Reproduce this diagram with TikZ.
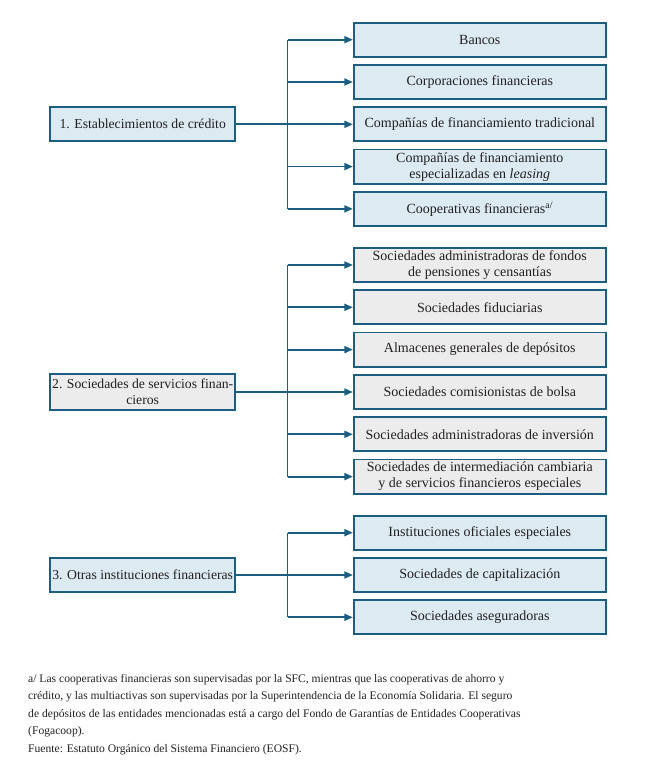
\documentclass[tikz,border=0pt]{standalone}
\usepackage{fontspec}
\setmainfont{Liberation Serif}
\usetikzlibrary{arrows.meta}
\definecolor{edgeblue}{RGB}{28,94,128}
\definecolor{paleblue}{RGB}{220,234,242}
\definecolor{palegray}{RGB}{236,236,236}
\definecolor{ink}{RGB}{35,31,32}
\tikzset{
	box/.style={draw=edgeblue, line width=1.9pt, align=center, text=ink, inner sep=1pt, font=\fontsize{14}{16}\selectfont},
	subbox/.style={box, minimum width=252pt, minimum height=34.2pt},
	headbox/.style={box, minimum width=185pt, minimum height=34.2pt, font=\fontsize{13.7}{16}\selectfont},
	link/.style={draw=edgeblue, line width=1.8pt},
	arr/.style={link, -{Triangle[length=8.5pt,width=7pt]}}
}
\begin{document}
\begin{tikzpicture}[x=1pt,y=-1pt]
		\useasboundingbox (0,0) rectangle (646,770);
		\node[headbox, fill=paleblue] (g1) at (142.7,124.3) {1. Establecimientos de crédito};
		\node[subbox, fill=paleblue] (a1) at (479.8,39.7) {Bancos};
		\node[subbox, fill=paleblue] (a2) at (479.8,82) {Corporaciones financieras};
		\node[subbox, fill=paleblue] (a3) at (479.8,124.3) {Compañías de financiamiento tradicional};
		\node[subbox, fill=paleblue] (a4) at (479.8,166.6) {Compañías de financiamiento\\especializadas en \textit{leasing}};
		\node[subbox, fill=paleblue] (a5) at (479.8,208.9) {Cooperativas financieras\textsuperscript{a/}};
		\coordinate (j1) at (287.5,124.3);
		\draw[link] (g1.east) -- (j1);
		\draw[link] (j1 |- a1.west) -- (j1 |- a5.west);
		\draw[arr] (j1 |- a1.west) -- (a1.west);
		\draw[arr] (j1 |- a2.west) -- (a2.west);
		\draw[arr] (j1 |- a3.west) -- (a3.west);
		\draw[arr] (j1 |- a4.west) -- (a4.west);
		\draw[arr] (j1 |- a5.west) -- (a5.west);
		\node[headbox, fill=palegray, minimum height=36pt] (g2) at (142.7,392) {2. Sociedades de servicios finan-\\cieros};
		\node[subbox, fill=palegray] (b1) at (479.8,265) {Sociedades administradoras de fondos\\de pensiones y censantías};
		\node[subbox, fill=palegray] (b2) at (479.8,307.3) {Sociedades fiduciarias};
		\node[subbox, fill=palegray] (b3) at (479.8,349.6) {Almacenes generales de depósitos};
		\node[subbox, fill=palegray] (b4) at (479.8,392) {Sociedades comisionistas de bolsa};
		\node[subbox, fill=palegray] (b5) at (479.8,434.3) {Sociedades administradoras de inversión};
		\node[subbox, fill=palegray] (b6) at (479.8,476.6) {Sociedades de intermediación cambiaria\\y de servicios financieros especiales};
		\coordinate (j2) at (287.5,392);
		\draw[link] (g2.east) -- (j2);
		\draw[link] (j2 |- b1.west) -- (j2 |- b6.west);
		\draw[arr] (j2 |- b1.west) -- (b1.west);
		\draw[arr] (j2 |- b2.west) -- (b2.west);
		\draw[arr] (j2 |- b3.west) -- (b3.west);
		\draw[arr] (j2 |- b4.west) -- (b4.west);
		\draw[arr] (j2 |- b5.west) -- (b5.west);
		\draw[arr] (j2 |- b6.west) -- (b6.west);
		\node[headbox, fill=paleblue] (g3) at (142.7,575) {3. Otras instituciones financieras};
		\node[subbox, fill=paleblue] (c1) at (479.8,532.7) {Instituciones oficiales especiales};
		\node[subbox, fill=paleblue] (c2) at (479.8,575) {Sociedades de capitalización};
		\node[subbox, fill=paleblue] (c3) at (479.8,617.3) {Sociedades aseguradoras};
		\coordinate (j3) at (287.5,575);
		\draw[link] (g3.east) -- (j3);
		\draw[link] (j3 |- c1.west) -- (j3 |- c3.west);
		\draw[arr] (j3 |- c1.west) -- (c1.west);
		\draw[arr] (j3 |- c2.west) -- (c2.west);
		\draw[arr] (j3 |- c3.west) -- (c3.west);
		\node[anchor=north west, align=left, inner sep=0pt, text=ink, font=\fontsize{11.6}{17.5}\selectfont] (note) at (28,674) {a/ Las cooperativas financieras son supervisadas por la SFC, mientras que las cooperativas de ahorro y\\crédito, y las multiactivas son supervisadas por la Superintendencia de la Economía Solidaria. El seguro\\de depósitos de las entidades mencionadas está a cargo del Fondo de Garantías de Entidades Cooperativas\\(Fogacoop).\\Fuente: Estatuto Orgánico del Sistema Financiero (EOSF).};
	\end{tikzpicture}
\end{document}
